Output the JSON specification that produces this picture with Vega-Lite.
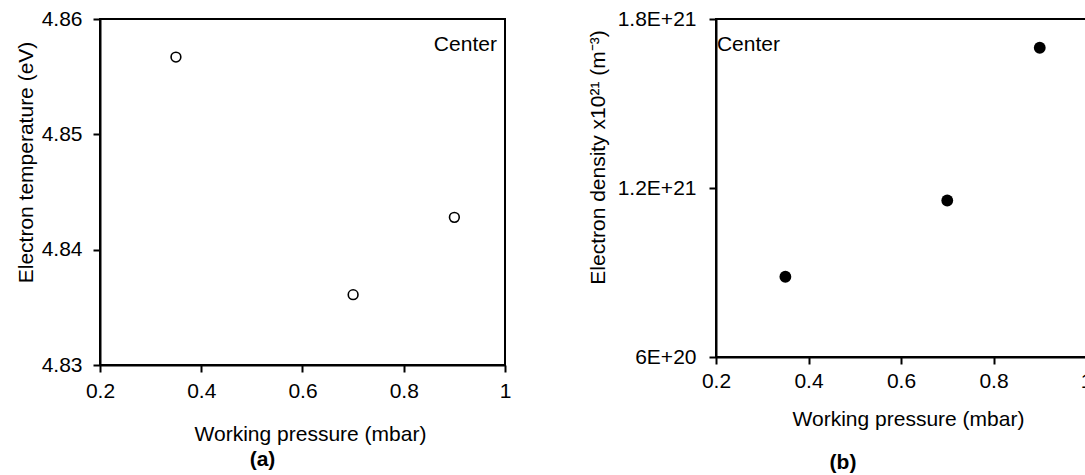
{
  "$schema": "https://vega.github.io/schema/vega-lite/v6.json",
  "padding": {"left": 13, "top": 7, "right": 0, "bottom": 0},
  "background": "white",
  "config": {
    "font": "Liberation Sans",
    "view": {"stroke": "black", "strokeWidth": 2},
    "axis": {
      "domainColor": "black", "domainWidth": 2,
      "tickColor": "black", "tickWidth": 2, "tickSize": 7,
      "labelFont": "Liberation Sans", "labelFontSize": 21, "labelColor": "black",
      "titleFont": "Liberation Sans", "titleFontSize": 21, "titleFontWeight": "normal", "titleColor": "black",
      "grid": false, "labelFlush": false, "labelOverlap": false
    },
    "title": {"font": "Liberation Sans", "fontSize": 21, "fontWeight": "bold", "color": "black"}
  },
  "spacing": 74,
  "resolve": {"scale": {"x": "independent", "y": "independent"}},
  "hconcat": [
    {
      "width": 405, "height": 346,
      "title": {"text": "(a)", "orient": "bottom", "anchor": "middle", "dx": -40, "offset": 5},
      "data": {"values": [
        {"p": 0.35, "te": 4.8567},
        {"p": 0.7, "te": 4.8361},
        {"p": 0.9, "te": 4.8428}
      ]},
      "layer": [
        {
          "mark": {"type": "point", "shape": "circle", "filled": false, "color": "black", "strokeWidth": 1.6, "size": 95, "opacity": 1},
          "encoding": {
            "x": {"field": "p", "type": "quantitative",
              "scale": {"domain": [0.2, 1], "nice": false, "zero": false},
              "axis": {"title": "Working pressure (mbar)", "values": [0.2, 0.4, 0.6, 0.8, 1], "format": "~g", "labelPadding": 8,
                "titleX": 210, "titleY": 75, "titleBaseline": "alphabetic"}},
            "y": {"field": "te", "type": "quantitative",
              "scale": {"domain": [4.83, 4.86], "nice": false, "zero": false},
              "axis": {"title": "Electron temperature (eV)", "values": [4.83, 4.84, 4.85, 4.86], "format": ".2f", "labelPadding": 11,
                "titleX": -68, "titleY": 143, "titleBaseline": "alphabetic", "titleAngle": -90}}
          }
        },
        {
          "data": {"values": [{"p": 0.984, "te": 4.8572, "label": "Center"}]},
          "mark": {"type": "text", "align": "right", "baseline": "alphabetic", "fontSize": 21, "font": "Liberation Sans", "color": "black"},
          "encoding": {
            "x": {"field": "p", "type": "quantitative"},
            "y": {"field": "te", "type": "quantitative"},
            "text": {"field": "label"}
          }
        }
      ]
    },
    {
      "width": 370, "height": 338,
      "title": {"text": "(b)", "orient": "bottom", "anchor": "middle", "dx": -58, "offset": 23},
      "data": {"values": [
        {"p": 0.35, "ne": 8.849e20},
        {"p": 0.7, "ne": 1.1555e21},
        {"p": 0.9, "ne": 1.698e21}
      ]},
      "layer": [
        {
          "mark": {"type": "point", "shape": "circle", "filled": true, "color": "black", "size": 140, "opacity": 1},
          "encoding": {
            "x": {"field": "p", "type": "quantitative",
              "scale": {"domain": [0.2, 1], "nice": false, "zero": false},
              "axis": {"title": "Working pressure (mbar)", "values": [0.2, 0.4, 0.6, 0.8, 1], "format": "~g", "labelPadding": 6,
                "titleX": 192, "titleY": 68, "titleBaseline": "alphabetic"}},
            "y": {"field": "ne", "type": "quantitative",
              "scale": {"domain": [6e20, 1.8e21], "nice": false, "zero": false},
              "axis": {"title": "Electron density x10²¹ (m⁻³)", "values": [6e20, 1.2e21, 1.8e21], "labelExpr": "upper(format(datum.value, '~e'))", "labelPadding": 13,
                "titleX": -112, "titleY": 138, "titleBaseline": "alphabetic", "titleAngle": -90}}
          }
        },
        {
          "data": {"values": [{"p": 0.202, "ne": 1.686e21, "label": "Center"}]},
          "mark": {"type": "text", "align": "left", "baseline": "alphabetic", "fontSize": 21, "font": "Liberation Sans", "color": "black"},
          "encoding": {
            "x": {"field": "p", "type": "quantitative"},
            "y": {"field": "ne", "type": "quantitative"},
            "text": {"field": "label"}
          }
        }
      ]
    }
  ]
}
